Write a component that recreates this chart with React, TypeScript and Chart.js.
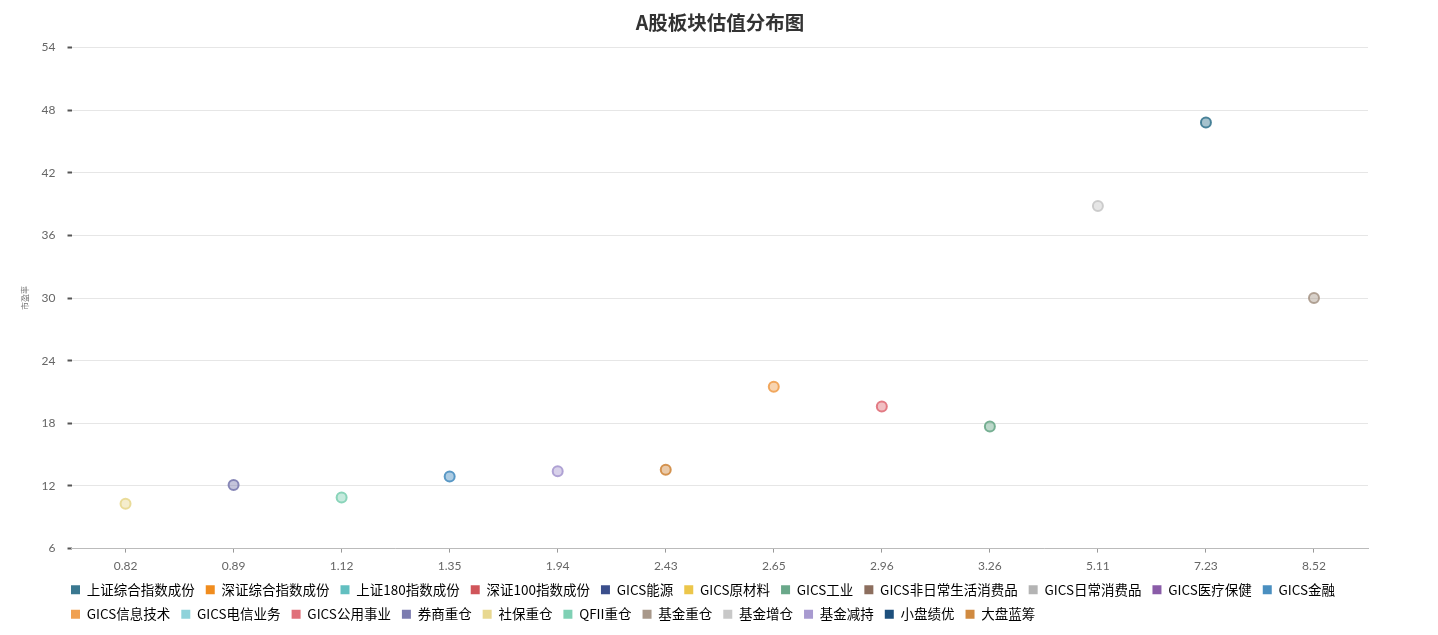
import React, { useEffect, useRef } from 'react';
import { Chart, registerables } from 'chart.js';

Chart.register(...registerables);

// 市净率 categories on the x axis
const pbLabels = ['0.82', '0.89', '1.12', '1.35', '1.94', '2.43', '2.65', '2.96', '3.26', '5.11', '7.23', '8.52'];

// 市盈率 for each category
const peValues = [10.3, 12.1, 10.9, 12.9, 13.4, 13.55, 21.5, 19.6, 17.7, 38.8, 46.8, 30];

// which series each point belongs to
const pointSeries = [15, 14, 16, 10, 19, 21, 11, 13, 6, 18, 0, 17];

const seriesNames = [
    '上证综合指数成份', '深证综合指数成份', '上证180指数成份', '深证100指数成份',
    'GICS能源', 'GICS原材料', 'GICS工业', 'GICS非日常生活消费品', 'GICS日常消费品',
    'GICS医疗保健', 'GICS金融', 'GICS信息技术', 'GICS电信业务', 'GICS公用事业',
    '券商重仓', '社保重仓', 'QFII重仓', '基金重仓', '基金增仓', '基金减持', '小盘绩优', '大盘蓝筹',
];

const seriesColors = [
    '#3a7890', '#f08c1e', '#62bfc0', '#d0555a',
    '#3b4f8c', '#ecc64a', '#6aa88a', '#8c6e5e', '#b4b4b4',
    '#8a5ca8', '#4a8fc0', '#f0a050', '#8fd2da', '#e0707a',
    '#7c7cb0', '#e8d890', '#7fd0b4', '#a8988a', '#c8c8c8', '#a89ad0', '#1d4f7c', '#d08a40',
];

const withAlpha = (hex: string, a: number) => {
    const n = parseInt(hex.slice(1), 16);
    return `rgba(${(n >> 16) & 255}, ${(n >> 8) & 255}, ${n & 255}, ${a})`;
};

const font = "Lato, 'Noto Sans CJK SC', sans-serif";
const cjkFont = "'Noto Sans CJK SC', sans-serif";

// nudge the title and legend to where the original puts them
const shiftBoxes = {
    id: 'shiftBoxes',
    afterLayout(chart: any) {
        if (chart.legend) {
            chart.legend.left += 50;
            chart.legend.right += 50;
            chart.legend.top -= 7;
            chart.legend.bottom -= 7;
        }
        if (chart.titleBlock) {
            chart.titleBlock.left += 31;
            chart.titleBlock.right += 31;
        }
    },
};

const ValuationScatter: React.FC = () => {
    const chartRef = useRef<HTMLCanvasElement>(null);

    useEffect(() => {
        let chartInstance: Chart | undefined;
        const ctx = chartRef.current?.getContext('2d');
        if (ctx) {
            const datasets = seriesNames.map((name, si) => ({
                label: name,
                data: pbLabels.map((_, i) => (pointSeries[i] === si ? peValues[i] : null)),
                showLine: false,
                borderColor: withAlpha(seriesColors[si], 0.85),
                backgroundColor: seriesColors[si],
                pointBackgroundColor: withAlpha(seriesColors[si], 0.45),
                pointBorderColor: withAlpha(seriesColors[si], 0.9),
                pointBorderWidth: 2,
                pointRadius: 5,
            }));
            chartInstance = new Chart(ctx, {
                type: 'line',
                data: { labels: pbLabels, datasets },
                plugins: [shiftBoxes],
                options: {
                    responsive: true,
                    maintainAspectRatio: false,
                    animation: false,
                    layout: { padding: { left: 2, right: 62, top: 3, bottom: -11 } },
                    plugins: {
                        title: {
                            display: true,
                            text: 'A股板块估值分布图',
                            color: '#333',
                            font: { family: cjkFont, size: 19.5, weight: 'bold' },
                            padding: { top: 0, bottom: 13 },
                        },
                        legend: {
                            position: 'bottom',
                            align: 'start',
                            labels: {
                                boxWidth: 9,
                                boxHeight: 9,
                                padding: 11,
                                color: '#444',
                                font: { family: cjkFont, size: 13.5 },
                                generateLabels: (chart) =>
                                    chart.data.datasets.map((ds, i) => ({
                                        text: ds.label as string,
                                        fillStyle: seriesColors[i],
                                        strokeStyle: seriesColors[i],
                                        lineWidth: 0,
                                        hidden: !chart.isDatasetVisible(i),
                                        datasetIndex: i,
                                    })),
                            },
                        },
                        tooltip: { enabled: false },
                    },
                    scales: {
                        x: {
                            offset: true,
                            border: { display: true, color: '#bbb' },
                            grid: { drawOnChartArea: false, offset: false, tickLength: 4, color: '#999' },
                            ticks: { color: '#666', font: { family: font, size: 12 }, padding: 6 },
                        },
                        y: {
                            min: 6,
                            max: 54,
                            border: { display: false },
                            grid: { color: '#e6e6e6', tickLength: 4, tickColor: '#555', tickWidth: 2 },
                            ticks: { stepSize: 6, color: '#666', font: { family: font, size: 12 }, padding: 12 },
                            title: {
                                display: true,
                                text: '市盈率',
                                color: '#777',
                                font: { family: cjkFont, size: 8 },
                                padding: { top: 10, bottom: 0 },
                            },
                        },
                    },
                },
            });
        }
        return () => {
            if (chartInstance) {
                chartInstance.destroy();
            }
        };
    }, []);

    return <canvas ref={chartRef}></canvas>;
};

export default function App() {
    return (
        <div style={{ position: 'relative', width: 1422, height: 619 }}>
            <ValuationScatter />
        </div>
    );
}
